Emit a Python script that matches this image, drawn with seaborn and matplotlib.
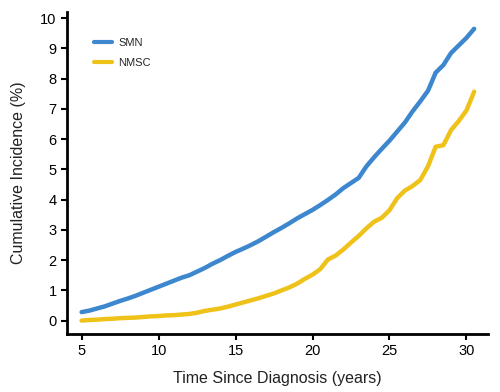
import pandas as pd
import matplotlib.pyplot as plt
import seaborn as sns

# valores (anos desde o diagnóstico, incidência cumulativa em %)
years = [5.0, 5.5, 6.0, 6.5, 7.0, 7.5, 8.0, 8.5, 9.0, 9.5, 10.0, 10.5, 11.0,
         11.5, 12.0, 12.5, 13.0, 13.5, 14.0, 14.5, 15.0, 15.5, 16.0, 16.5,
         17.0, 17.5, 18.0, 18.5, 19.0, 19.5, 20.0, 20.5, 21.0, 21.5, 22.0,
         22.5, 23.0, 23.5, 24.0, 24.5, 25.0, 25.5, 26.0, 26.5, 27.0, 27.5,
         28.0, 28.5, 29.0, 29.5, 30.0, 30.5]
smn = [0.28, 0.33, 0.40, 0.47, 0.56, 0.65, 0.73, 0.82, 0.92, 1.02, 1.12, 1.22,
       1.32, 1.42, 1.50, 1.62, 1.74, 1.88, 2.00, 2.14, 2.27, 2.38, 2.50, 2.63,
       2.78, 2.93, 3.07, 3.22, 3.38, 3.52, 3.66, 3.82, 3.99, 4.17, 4.38, 4.55,
       4.72, 5.10, 5.40, 5.68, 5.95, 6.25, 6.55, 6.92, 7.25, 7.60, 8.20, 8.45,
       8.85, 9.10, 9.35, 9.65]
nmsc = [0.00, 0.02, 0.03, 0.05, 0.06, 0.08, 0.09, 0.10, 0.12, 0.14, 0.15, 0.17,
        0.18, 0.20, 0.22, 0.26, 0.32, 0.36, 0.40, 0.46, 0.53, 0.60, 0.67, 0.74,
        0.82, 0.90, 1.00, 1.10, 1.22, 1.38, 1.52, 1.70, 2.02, 2.15, 2.35, 2.58,
        2.80, 3.05, 3.27, 3.40, 3.65, 4.05, 4.30, 4.45, 4.65, 5.10, 5.75, 5.80,
        6.30, 6.60, 6.95, 7.57]
x_ticks = [5, 10, 15, 20, 25, 30]
y_ticks = list(range(0, 11))

df = pd.DataFrame({
    "years": years * 2,
    "incidence": smn + nmsc,
    "group": ["SMN"] * len(years) + ["NMSC"] * len(years),
})

sns.set_style("ticks")
plt.rcParams["font.family"] = ["Liberation Sans", "DejaVu Sans"]

fig = plt.figure(figsize=(5, 3.92), dpi=100)
ax = fig.add_axes([0.134, 0.149, 0.842, 0.82])

sns.lineplot(data=df, x="years", y="incidence", hue="group",
             palette={"SMN": "#3d87cf", "NMSC": "#efc21a"},
             linewidth=3.2, ax=ax)

ax.set_xlim(4.05, 31.4)
ax.set_ylim(-0.43, 10.2)
ax.set_xticks(x_ticks)
ax.set_yticks(y_ticks)
ax.tick_params(labelsize=10.5, width=1.5, length=4, color="black",
               labelcolor="black")
for s in ["left", "bottom"]:
    ax.spines[s].set_linewidth(2)
    ax.spines[s].set_color("black")
sns.despine(ax=ax)

ax.set_xlabel("Time Since Diagnosis (years)", fontsize=11.5, labelpad=9,
              color="#222222")
ax.set_ylabel("Cumulative Incidence (%)", fontsize=11.5, labelpad=10,
              color="#222222")

leg = ax.legend(loc="upper left", bbox_to_anchor=(0.04, 0.95), frameon=False,
                fontsize=8, handlelength=1.6, handletextpad=0.6,
                labelspacing=0.9)
for h in leg.get_lines():
    h.set_linewidth(3)

fig.savefig("out.png", dpi=100)
